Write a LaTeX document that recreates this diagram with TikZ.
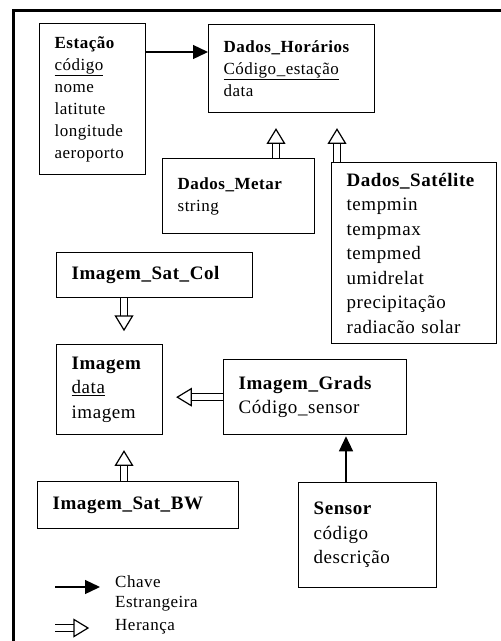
\documentclass[tikz,border=0pt]{standalone}
\usepackage{fontspec}
\setmainfont{Liberation Serif}[LetterSpace=3]
\usetikzlibrary{arrows.meta,calc}

\tikzset{
  classe/.style={draw, line width=1.3pt, anchor=north west, align=left, inner xsep=15pt, inner ysep=2pt},
  pequeno/.style={font=\fontsize{17}{22}\selectfont},
  grande/.style={font=\fontsize{19}{24.5}\selectfont},
  fk/.style={line width=1.3pt, -{Triangle[length=15pt,width=14pt]}},
  haste/.style={double, double distance=5.5pt, line width=1.2pt},
  cabeca/.style={draw, fill=white, line width=1.2pt, line join=miter},
}
% seta de heranca: #1 origem, #2 destino, #3 folga antes do destino
\newcommand{\heranca}[3]{%
  \coordinate (hbase) at ($(#2)!#3+14pt!(#1)$);
  \coordinate (hponta) at ($(#2)!#3!(#1)$);
  \draw[haste] (#1) -- (hbase);
  \path[cabeca] (hponta) -- ($(hbase)!8.5pt!90:(hponta)$) -- ($(hbase)!8.5pt!-90:(hponta)$) -- cycle;
}

\begin{document}
\begin{tikzpicture}[x=1pt,y=-1pt]
\useasboundingbox (0,0) rectangle (501,641);
\draw[line width=3pt] (13,641) -- (13,10) -- (501,10); % moldura
% classes
\node[classe, pequeno, text width=76pt, minimum height=151pt] (estacao) at (39,23) {\textbf{Estação}\\\underline{código}\\nome\\latitute\\longitude\\aeroporto};
\node[classe, pequeno, text width=136pt, minimum height=88pt] (horarios) at (208,24) {\textbf{Dados\_Horários}\\\underline{Código\_estação}\\data};
\node[classe, pequeno, text width=122pt, minimum height=75pt] (metar) at (162,158) {\textbf{Dados\_Metar}\\string};
\node[classe, grande, text width=135pt, minimum height=181pt] (satelite) at (331,162) {\textbf{Dados\_Satélite}\\tempmin\\tempmax\\tempmed\\umidrelat\\precipitação\\radiacão solar};
\node[classe, grande, text width=166pt, minimum height=45pt] (satcol) at (56,252) {\textbf{Imagem\_Sat\_Col}};
\node[classe, grande, text width=76pt, minimum height=90pt] (imagem) at (56,344) {\textbf{Imagem}\\\underline{data}\\imagem};
\node[classe, grande, text width=153pt, minimum height=75pt] (grads) at (223,359) {\textbf{Imagem\_Grads}\\Código\_sensor};
\node[classe, grande, text width=171pt, minimum height=47pt] (satbw) at (37,481) {\textbf{Imagem\_Sat\_BW}};
\node[classe, grande, text width=108pt, minimum height=105pt] (sensor) at (298,482) {\textbf{Sensor}\\código\\descrição};
% chave estrangeira
\draw[fk] ([yshift=-29pt]estacao.north east) -- ([yshift=-28pt]horarios.north west);
\coordinate (s1) at ([xshift=48pt]sensor.north west);
\draw[fk, shorten >=1pt] (s1) -- (s1 |- grads.south);
% heranca
\coordinate (m1) at ([xshift=114pt]metar.north west);
\coordinate (d1) at ([xshift=6pt]satelite.north west);
\coordinate (c1) at ([xshift=68pt]satcol.south west);
\coordinate (b1) at ([xshift=87pt]satbw.north west);
\coordinate (m2) at (m1 |- horarios.south);
\coordinate (d2) at (d1 |- horarios.south);
\coordinate (c2) at (c1 |- imagem.north);
\coordinate (g2) at (imagem.east |- grads.west);
\coordinate (b2) at (b1 |- imagem.south);
\heranca{m1}{m2}{16pt}
\heranca{d1}{d2}{16pt}
\heranca{c1}{c2}{14pt}
\heranca{grads.west}{g2}{14pt}
\heranca{b1}{b2}{16pt}
% legenda
\coordinate (fka) at (55,587);
\coordinate (fkb) at (100,587);
\coordinate (hea) at (55,628);
\coordinate (heb) at (88,628);
\draw[fk] (fka) -- (fkb);
\heranca{hea}{heb}{0pt}
\node[anchor=north west, align=left, inner sep=0pt, font=\fontsize{17}{20}\selectfont] (lblfk) at (115,575) {Chave\\Estrangeira};
\node[pequeno, anchor=west, inner sep=0pt] (lblher) at (115,627) {Herança};
\end{tikzpicture}
\end{document}
